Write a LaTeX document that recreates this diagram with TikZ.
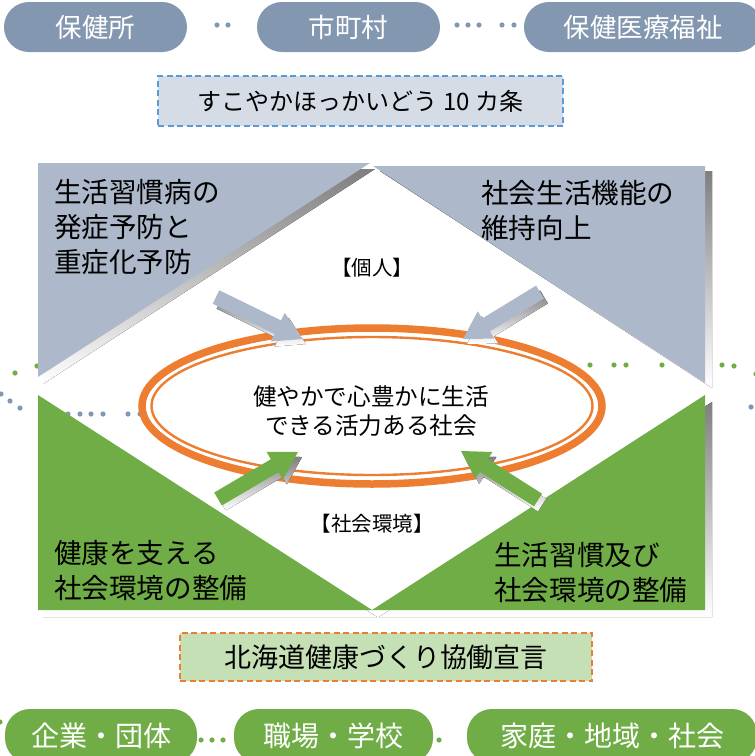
\documentclass[tikz,border=0pt]{standalone}
\usepackage{fontspec}
\setmainfont{Noto Sans CJK JP}
\usetikzlibrary{calc}
\definecolor{pillblue}{HTML}{8497B0}
\definecolor{triblue}{HTML}{ADB9CA}
\definecolor{shade}{HTML}{7F7F7F}
\definecolor{grn}{HTML}{70AD47}
\definecolor{org}{HTML}{ED7D31}
\definecolor{boxblue}{HTML}{D6DCE5}
\definecolor{dashblue}{HTML}{5B9BD5}
\definecolor{boxgreen}{HTML}{C5E0B4}
\newcommand\blkarrow[3]{%
 \fill[#3] ($(#1)!7.5pt!90:(#2)$) -- ($(#2)!27pt!(#1)!7.5pt!90:(#2)$) -- ($(#2)!27pt!(#1)!16pt!90:(#2)$) -- (#2) -- ($(#2)!27pt!(#1)!16pt!-90:(#2)$) -- ($(#2)!27pt!(#1)!7.5pt!-90:(#2)$) -- ($(#1)!7.5pt!-90:(#2)$) -- cycle;}
\tikzset{
 pillb/.style={rectangle, rounded corners=25pt, fill=pillblue, text=white, font=\fontsize{26.5}{30}\selectfont, inner sep=0pt},
 pillg/.style={pillb, fill=grn, font=\fontsize{28}{30}\selectfont},
 dbox/.style={rectangle, inner sep=0pt, line width=1.6pt, dash pattern=on 6pt off 3.5pt, font=\fontsize{24}{28}\selectfont},
 tritext/.style={align=left, inner sep=0pt, font=\fontsize{27.6}{35}\selectfont},
 midtext/.style={align=center, inner sep=0pt, font=\fontsize{20.5}{22}\selectfont},
 ctext/.style={align=center, inner sep=0pt, font=\fontsize{23.6}{28.5}\selectfont},
 gdot/.style={fill=grn},
 bdot/.style={fill=pillblue},
}
\begin{document}
\begin{tikzpicture}[x=1pt,y=-1pt]
\useasboundingbox (0,0) rectangle (755,756);
\clip (0,0) rectangle (755,756);
% top pills
\node[pillb, minimum width=183pt, minimum height=50pt] (p1) at (95.5,27) {保健所};
\node[pillb, minimum width=183pt, minimum height=50pt] (p2) at (348.5,27) {市町村};
\node[pillb, minimum width=238pt, minimum height=50pt] (p3) at (643,27) {保健医療福祉};
\foreach \x in {217,228,457,468,479,502,514} \fill[bdot] (\x,25) circle[radius=2.6pt];
% top dashed box
\node[dbox, draw=dashblue, fill=boxblue, minimum width=405pt, minimum height=50pt] (tbox) at (360.5,101) {すこやかほっかいどう 10 カ条};
% dots middle
\foreach \x/\y in {15/373,37/366,590/365,614/365,626/365,662/365,722/365,734/366,756/374} \fill[gdot] (\x,\y) circle[radius=2.6pt];
\foreach \x/\y in {1/394,10/401,20/408,68/414,80/414,91/414,103/414,128/414,140/414,751/407} \fill[bdot] (\x,\y) circle[radius=2.6pt];
% triangles with shadows
\fill[shade] (43,169) -- (375,169) -- (43,384) -- cycle;
\fill[triblue] (38,163) -- (370,163) -- (38,377) -- cycle;
\fill[shade] (380,171) -- (712,171) -- (712,388) -- cycle;
\fill[triblue] (373,166) -- (705,166) -- (705,383) -- cycle;
\fill[shade] (43,402) -- (43,617) -- (377,617) -- cycle;
\fill[grn] (38,395) -- (38,610) -- (372,610) -- cycle;
\fill[shade] (712,402) -- (712,617) -- (379,617) -- cycle;
\fill[grn] (705,395) -- (705,610) -- (372,610) -- cycle;
% ellipse
\draw[org, line width=7.5pt] (372,406) ellipse[x radius=230pt, y radius=78pt];
\draw[org, line width=2.4pt] (372,406) ellipse[x radius=220.5pt, y radius=69pt];
% arrows
\begin{scope}[shift={(4,5)}]
\blkarrow{216,297}{302,339}{shade}
\blkarrow{540,292}{463,339}{shade}
\blkarrow{218,499}{298,452}{shade}
\blkarrow{538,500}{461,451}{shade}
\end{scope}
\blkarrow{216,297}{302,339}{triblue}
\blkarrow{540,292}{463,339}{triblue}
\blkarrow{218,499}{298,452}{grn}
\blkarrow{538,500}{461,451}{grn}
% texts
\node[tritext, anchor=west] (t1) at (54,227) {生活習慣病の\\発症予防と\\重症化予防};
\node[tritext, anchor=west] (t2) at (481,210.5) {社会生活機能の\\維持向上};
\node[tritext, anchor=west] (t3) at (54,570.5) {健康を支える\\社会環境の整備};
\node[tritext, anchor=west] (t4) at (494,573) {生活習慣及び\\社会環境の整備};
\node[midtext] (kojin) at (372,268) {【個人】};
\node[midtext] (shakai) at (372,524) {【社会環境】};
\node[ctext] (center) at (371,411) {健やかで心豊かに生活\\できる活力ある社会};
% bottom dashed box
\node[dbox, draw=org, fill=boxgreen, minimum width=412pt, minimum height=48pt, font=\fontsize{27}{28}\selectfont] (bbox) at (386,657) {北海道健康づくり協働宣言};
% bottom pills
\fill[gdot] (0,722) circle[radius=2.6pt];
\foreach \x in {201,212,223,439} \fill[gdot] (\x,740) circle[radius=2.6pt];
\node[pillg, minimum width=192pt, minimum height=54pt] (b1) at (101,736) {企業・団体};
\node[pillg, minimum width=199pt, minimum height=54pt] (b2) at (333.5,736) {職場・学校};
\node[pillg, minimum width=290pt, minimum height=54pt] (b3) at (612,736) {家庭・地域・社会};
\end{tikzpicture}
\end{document}
